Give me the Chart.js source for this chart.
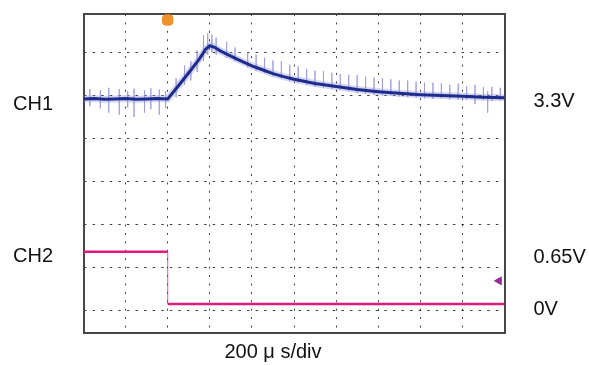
<!DOCTYPE html>
<html>
<head>
<meta charset="utf-8">
<script src="https://cdn.jsdelivr.net/npm/chart.js@4.4.1/dist/chart.umd.min.js"></script>
<style>
  html, body { margin: 0; padding: 0; background: #fff; }
  #wrap { position: relative; width: 589px; height: 365px; }
</style>
</head>
<body>
<div id="wrap"><canvas id="scope" width="589" height="365"></canvas></div>
<script>
// Screen units are divisions: 10 across, y = 0 sits on the 0V grid line
const gridY = [0, 1, 2, 3, 4, 5, 6];

// CH1 trace
const ch1X = [0, 0.25, 0.5, 0.75, 1, 1.25, 1.5, 1.75, 2, 2.25, 2.5, 2.75, 2.9, 3, 3.1, 3.25, 3.5, 3.75,
              4, 4.25, 4.5, 4.75, 5, 5.5, 6, 6.5, 7, 7.5, 8, 8.5, 9, 9.5, 10];
const ch1Y = [4.92, 4.93, 4.91, 4.92, 4.93, 4.91, 4.92, 4.93, 4.92, 5.22, 5.53, 5.85, 6.08, 6.16, 6.13, 6.04, 5.92, 5.8,
              5.69, 5.6, 5.51, 5.44, 5.38, 5.28, 5.21, 5.14, 5.09, 5.05, 5.02, 5.0, 4.98, 4.96, 4.95];

// CH1 noise spikes: x, top, bottom
const spikeX   = [0.15, 0.4, 0.6, 0.85, 1.05, 1.2, 1.45, 1.6, 1.8, 1.95,
                  2.2, 2.4, 2.55, 2.7, 2.85, 2.95, 3.05, 3.15,
                  3.4, 3.6, 3.9, 4.1, 4.3, 4.5, 4.7, 4.9, 5.1, 5.3, 5.5, 5.7, 5.9, 6.1, 6.3, 6.5, 6.7, 6.9,
                  7.1, 7.3, 7.5, 7.7, 7.9, 8.1, 8.3, 8.5, 8.7, 8.9, 9.1, 9.3, 9.5, 9.6, 9.7, 9.9];
const spikeTop = [5.15, 5.12, 5.18, 5.15, 5.1, 5.16, 5.12, 5.17, 5.14, 5.1,
                  5.4, 5.7, 5.8, 6.05, 6.4, 6.45, 6.42, 6.35,
                  6.25, 6.12, 6.0, 5.95, 5.88, 5.82, 5.8, 5.72, 5.68, 5.62, 5.58, 5.57, 5.53, 5.5, 5.48, 5.48, 5.44, 5.42,
                  5.4, 5.38, 5.35, 5.35, 5.32, 5.3, 5.3, 5.28, 5.25, 5.28, 5.22, 5.25, 5.2, 5.1, 5.2, 5.18];
const spikeBot = [4.75, 4.7, 4.6, 4.55, 4.72, 4.5, 4.6, 4.68, 4.55, 4.7,
                  4.95, 5.25, 5.35, 5.55, 5.8, 5.95, 6.0, 5.95,
                  5.88, 5.8, 5.66, 5.57, 5.52, 5.46, 5.4, 5.33, 5.3, 5.24, 5.2, 5.18, 5.15, 5.14, 5.1, 5.06, 5.05, 5.02,
                  5.0, 5.0, 4.98, 4.96, 4.95, 4.93, 4.92, 4.93, 4.91, 4.9, 4.9, 4.8, 4.89, 4.6, 4.87, 4.89];

// CH2 trace
const ch2X = [0, 2, 2, 10];
const ch2Y = [1.36, 1.36, 0.14, 0.14];

// markers
const triggerX = [2];
const triggerY = [6.76];
const refX = [9.87];
const refY = [0.68];

// side labels
const leftLabels = ['CH1', 'CH2'];
const leftLabelY = [4.8, 1.24];
const rightLabels = ['3.3V', '0.65V', '0V'];
const rightLabelY = [4.87, 1.22, 0.02];
const timeLabel = ['200 \u03bc s/div'];
const timeLabelX = [4.5];

const Y_MIN = -0.536;
const Y_MAX = 6.9;
const FRAME = '#474747';
const FONT = { family: 'Liberation Sans, Arial, sans-serif', size: 20 };

function pts(xs, ys) {
    return xs.map((x, i) => ({ x: x, y: ys[i] }));
}

function spikePoints() {
    const out = [];
    spikeX.forEach((x, i) => {
        out.push({ x: x, y: spikeTop[i] });
        out.push({ x: x, y: spikeBot[i] });
        out.push({ x: x, y: null });
    });
    return out;
}

function fixedTicks(values) {
    return scale => { scale.ticks = values.map(v => ({ value: v })); };
}

// pin an axis box to a fixed size, no extra label padding
function pinSize(w, h) {
    return s => {
        if (w !== null) s.width = w;
        if (h !== null) s.height = h;
        s.paddingTop = 0;
        s.paddingBottom = 0;
        s.paddingLeft = 0;
        s.paddingRight = 0;
    };
}

const ch1Data = pts(ch1X, ch1Y);

new Chart(document.getElementById('scope'), {
    type: 'line',
    data: {
        datasets: [{
            label: 'CH1',
            data: ch1Data,
            borderColor: '#1d2b8c',
            borderWidth: 3,
            pointRadius: 0,
            tension: 0,
            order: 1
        }, {
            label: 'CH1 haze',
            data: ch1Data,
            borderColor: 'rgba(140,140,215,0.35)',
            borderWidth: 7,
            pointRadius: 0,
            order: 3
        }, {
            label: 'CH1 noise',
            data: spikePoints(),
            borderColor: 'rgba(150,150,225,0.6)',
            borderWidth: 1,
            pointRadius: 0,
            spanGaps: false,
            order: 2
        }, {
            label: 'CH2',
            data: pts(ch2X, ch2Y),
            borderColor: '#e2197c',
            borderWidth: 2.5,
            pointRadius: 0,
            segment: {
                borderColor: c => c.p0.parsed.x === c.p1.parsed.x ? 'rgba(226,25,124,0.3)' : undefined,
                borderWidth: c => c.p0.parsed.x === c.p1.parsed.x ? 1 : undefined
            },
            order: 0
        }, {
            label: 'trigger',
            data: pts(triggerX, triggerY),
            showLine: false,
            pointStyle: 'rectRounded',
            pointRadius: 6,
            pointBackgroundColor: '#f0902a',
            pointBorderColor: '#f0902a',
            clip: false,
            order: 0
        }, {
            label: 'ref',
            data: pts(refX, refY),
            showLine: false,
            pointStyle: 'triangle',
            rotation: 270,
            pointRadius: 4.5,
            pointBackgroundColor: '#9a2a98',
            pointBorderColor: '#9a2a98',
            clip: false,
            order: 0
        }]
    },
    options: {
        responsive: false,
        animation: false,
        devicePixelRatio: 1,
        layout: { padding: { left: 13, top: 0, right: 0, bottom: 0 } },
        plugins: {
            legend: { display: false },
            tooltip: { enabled: false }
        },
        scales: {
            x: {
                type: 'linear',
                min: 0,
                max: 10,
                position: 'bottom',
                ticks: { display: false, stepSize: 1 },
                grid: { color: 'rgba(30,30,30,0.85)', lineWidth: 1, drawTicks: false },
                border: { display: false, dash: [2, 6.42] },
                afterFit: pinSize(null, 0)
            },
            y: {
                type: 'linear',
                min: Y_MIN,
                max: Y_MAX,
                position: 'left',
                afterBuildTicks: fixedTicks(gridY),
                ticks: { display: false },
                grid: { color: 'rgba(30,30,30,0.85)', lineWidth: 1, drawTicks: false },
                border: { display: false, dash: [2.5, 6.08] },
                afterFit: pinSize(0, null)
            },
            xl: {
                type: 'linear',
                min: 0,
                max: 10,
                position: 'bottom',
                afterBuildTicks: fixedTicks(timeLabelX),
                ticks: {
                    autoSkip: false,
                    maxRotation: 0,
                    padding: 7,
                    color: '#111',
                    font: FONT,
                    callback: (v, i) => timeLabel[i]
                },
                grid: { display: false, drawTicks: false },
                border: { display: true, color: FRAME, width: 2 },
                afterFit: pinSize(null, 32)
            },
            xt: {
                type: 'linear',
                min: 0,
                max: 10,
                position: 'top',
                ticks: { display: false },
                grid: { display: false, drawTicks: false },
                border: { display: true, color: FRAME, width: 2 },
                afterFit: pinSize(null, 14)
            },
            yl: {
                type: 'linear',
                min: Y_MIN,
                max: Y_MAX,
                position: 'left',
                afterBuildTicks: fixedTicks(leftLabelY),
                ticks: {
                    autoSkip: false,
                    crossAlign: 'far',
                    padding: 0,
                    color: '#111',
                    font: FONT,
                    callback: (v, i) => leftLabels[i]
                },
                grid: { display: false, drawTicks: false },
                border: { display: true, color: FRAME, width: 2 },
                afterFit: pinSize(70.5, null)
            },
            yr: {
                type: 'linear',
                min: Y_MIN,
                max: Y_MAX,
                position: 'right',
                afterBuildTicks: fixedTicks(rightLabelY),
                ticks: {
                    autoSkip: false,
                    padding: 29,
                    color: '#111',
                    font: FONT,
                    callback: (v, i) => rightLabels[i]
                },
                grid: { display: false, drawTicks: false },
                border: { display: true, color: FRAME, width: 2 },
                afterFit: pinSize(84.5, null)
            }
        }
    }
});
</script>
</body>
</html>
